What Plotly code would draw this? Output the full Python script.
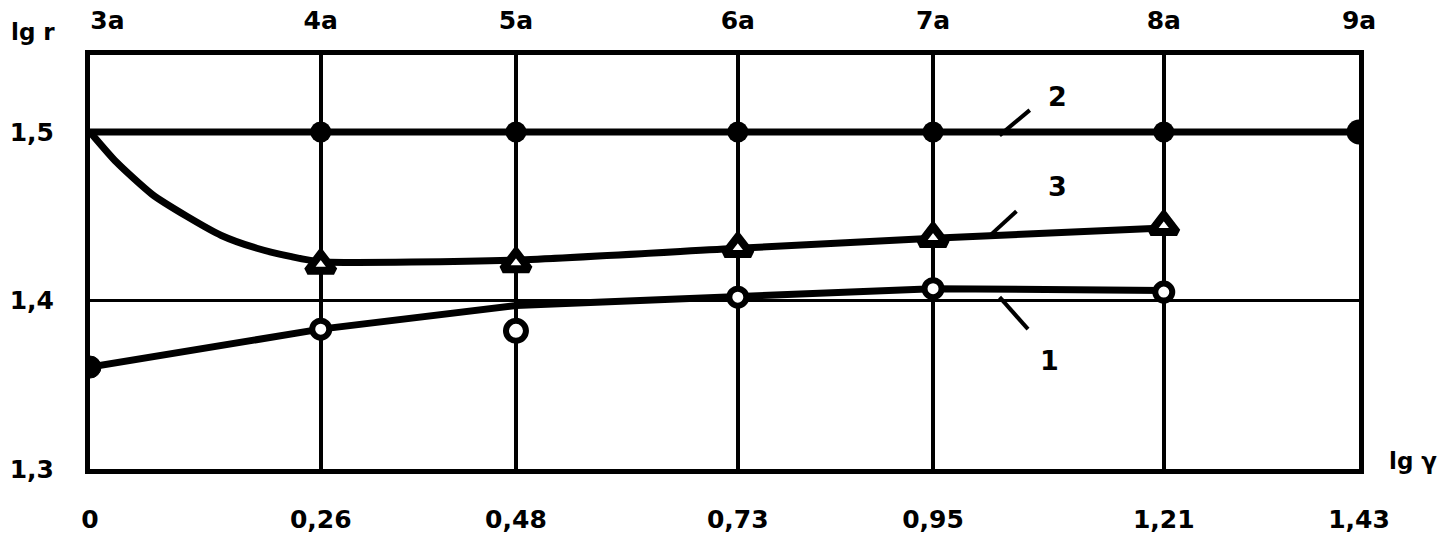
import plotly.graph_objects as go

# ---- data ----
x_ticks = [0, 0.26, 0.48, 0.73, 0.95, 1.21, 1.43]
x_ticktext = ["0", "0,26", "0,48", "0,73", "0,95", "1,21", "1,43"]
top_ticktext = ["\u00a0\u00a0\u00a0\u00a03a", "4a", "5a", "6a", "7a", "8a", "9a"]
y_ticks = [1.3, 1.4, 1.5]
y_ticktext = ["1,3", "1,4", "1,5"]

# curve 2
c2_x = [0, 0.26, 0.48, 0.73, 0.95, 1.21, 1.43]
c2_y = [1.5, 1.5, 1.5, 1.5, 1.5, 1.5, 1.5]
c2_mx = [0.26, 0.48, 0.73, 0.95, 1.21, 1.43]
c2_my = [1.5, 1.5, 1.5, 1.5, 1.5, 1.5]

c3_x = [0, 0.030, 0.070, 0.109, 0.148, 0.188, 0.227, 0.26, 0.48, 0.73, 0.95, 1.21]
c3_y = [1.5, 1.482, 1.463, 1.450, 1.4386, 1.431, 1.426, 1.423, 1.424, 1.431, 1.437, 1.443]
c3_mx = [0.26, 0.48, 0.73, 0.95, 1.21]
c3_my = [1.421, 1.422, 1.431, 1.437, 1.444]

# curve 1 (fitted line and measured points)
c1_x = [0, 0.26, 0.48, 0.73, 0.95, 1.21]
c1_y = [1.3605, 1.383, 1.397, 1.402, 1.407, 1.406]
c1_mx = [0, 0.26, 0.48, 0.73, 0.95, 1.21]
c1_my = [1.3605, 1.383, 1.382, 1.402, 1.407, 1.405]

FONT = "DejaVu Sans"
BLACK = "black"

fig = go.Figure()

fig.add_trace(go.Scatter(x=c2_x, y=c2_y, mode="lines",
                         line=dict(color=BLACK, width=7), hoverinfo="skip"))
fig.add_trace(go.Scatter(x=c3_x, y=c3_y, mode="lines",
                         line=dict(color=BLACK, width=7, shape="spline", smoothing=0.6),
                         hoverinfo="skip"))
fig.add_trace(go.Scatter(x=c1_x, y=c1_y, mode="lines",
                         line=dict(color=BLACK, width=7), hoverinfo="skip"))

fig.add_trace(go.Scatter(x=c2_mx, y=c2_my, mode="markers",
                         marker=dict(symbol="circle", size=[21, 21, 21, 21, 21, 25],
                                     color=BLACK, opacity=1, line=dict(width=0))))
fig.add_trace(go.Scatter(x=c3_mx, y=c3_my, mode="markers",
                         marker=dict(symbol="triangle-up", size=23, color="white", opacity=1,
                                     line=dict(color=BLACK, width=8))))
fig.add_trace(go.Scatter(x=c1_mx, y=c1_my, mode="markers",
                         marker=dict(symbol="circle", size=[22, 17, 20, 17, 17, 17],
                                     color=[BLACK, "white", "white", "white", "white", "white"],
                                     opacity=1,
                                     line=dict(color=BLACK, width=[1, 6, 6, 6, 6, 6]))))

# invisible trace to carry the top axis
fig.add_trace(go.Scatter(x=x_ticks, y=[None] * len(x_ticks), xaxis="x2",
                         mode="markers", showlegend=False, hoverinfo="skip"))

# leader lines for the curve labels
leaders = [
    (1.025, 1.498, 1.059, 1.513),
    (1.014, 1.4385, 1.044, 1.453),
    (1.025, 1.402, 1.057, 1.383),
]
for x0, y0, x1, y1 in leaders:
    fig.add_shape(type="line", xref="x", yref="y", x0=x0, y0=y0, x1=x1, y1=y1,
                  line=dict(color=BLACK, width=4))

labels = [("2", 1.09, 1.521), ("3", 1.09, 1.4675), ("1", 1.0815, 1.3645)]
for t, x, y in labels:
    fig.add_annotation(text=t, x=x, y=y, xref="x", yref="y", showarrow=False,
                       font=dict(family=FONT, size=27, color=BLACK, weight=700))

fig.add_annotation(text="lg r", xref="paper", yref="paper", x=-0.064, y=1.055,
                   xanchor="left", yanchor="middle", showarrow=False,
                   font=dict(family=FONT, size=23, color=BLACK, weight=700))
fig.add_annotation(text="lg γ", xref="paper", yref="paper", x=1.022, y=0.02,
                   xanchor="left", yanchor="middle", showarrow=False,
                   font=dict(family=FONT, size=23, color=BLACK, weight=700))

tickfont = dict(family=FONT, size=25, color=BLACK, weight=700)

fig.update_layout(
    width=1449, height=549,
    margin=dict(l=90, r=90, t=55, b=80, pad=0, autoexpand=False),
    paper_bgcolor="white", plot_bgcolor="white",
    showlegend=False,
    xaxis=dict(range=[0, 1.43], tickvals=x_ticks, ticktext=x_ticktext,
               showgrid=True, gridcolor=BLACK, gridwidth=4, automargin=False,
               showline=True, linecolor=BLACK, linewidth=5, mirror=True,
               ticks="", zeroline=False, tickfont=tickfont, ticklabelstandoff=24),
    xaxis2=dict(range=[0, 1.43], tickvals=x_ticks, ticktext=top_ticktext,
                overlaying="x", side="top", showgrid=False, showline=False, automargin=False,
                ticks="", zeroline=False, tickfont=tickfont, ticklabelstandoff=20),
    yaxis=dict(range=[1.3, 1.5457], tickvals=y_ticks, ticktext=y_ticktext,
               showgrid=True, gridcolor=BLACK, gridwidth=3, automargin=False,
               showline=True, linecolor=BLACK, linewidth=5, mirror=True,
               ticks="", zeroline=False, tickfont=tickfont, ticklabelstandoff=26),
)

fig.write_html("out.html", config={"displayModeBar": False},
               post_script="document.body.style.margin='0';")
